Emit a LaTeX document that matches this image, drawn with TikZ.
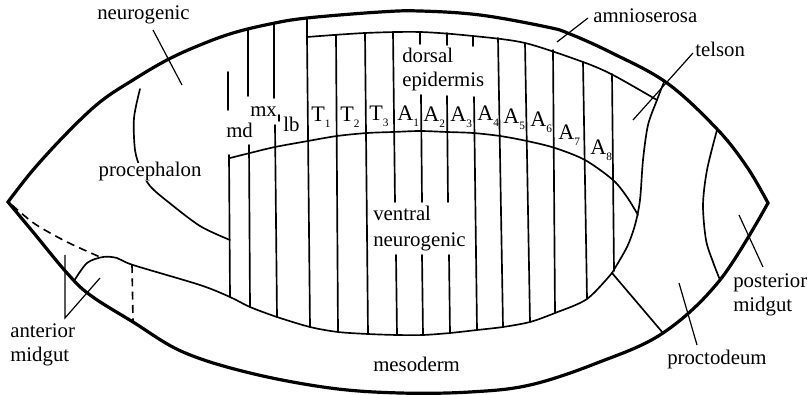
\documentclass[tikz,border=0pt]{standalone}
\usepackage{fontspec}
\setmainfont{Liberation Serif}
\newcommand\sbs[1]{\raisebox{-4.5pt}{\fontsize{8.5}{8.5}\selectfont #1}}
\begin{document}
\begin{tikzpicture}[x=0.75pt,y=-0.75pt,
  shell/.style={line width=2.4pt,line join=miter},
  zone/.style={line width=1.25pt,line cap=round},
  leader/.style={line width=0.9pt},
  dashline/.style={line width=1.2pt,dash pattern=on 6pt off 4pt},
  lbl/.style={inner sep=0pt,anchor=base west,font=\fontsize{15.6}{18}\selectfont},
  seglbl/.style={lbl,font=\fontsize{16.6}{18}\selectfont}]
\useasboundingbox (0,0) rectangle (811,395);

% egg outline
\draw[shell] plot[smooth,tension=0.6] coordinates {(8,202) (33,170) (67,133) (100,102) (133,80) (167,60) (200,45) (233,33) (270,24) (307,18) (380,12) (420,11) (480,15) (547,27) (570,34) (612,53) (667,83) (717,129) (747,167) (768,203)}
  -- plot[smooth,tension=0.6] coordinates {(768,203) (720,280) (663,333) (597,363) (530,385) (470,392) (400,393) (330,388) (250,373) (183,352) (133,322) (90,295) (67,273) (33,232) (8,202)} -- cycle;

% amnioserosa boundary
\draw[zone] (307,18) -- (307,37);
\draw[zone] plot[smooth] coordinates {(307,37) (365,33) (420,32) (473,36) (525,43) (583,62) (613,75) (657,100)};

% telson boundary
\draw[zone] plot[smooth] coordinates {(664,82) (657,100) (648,125) (643,160) (640,200) (635,225) (627,247) (612,273)};

% ventral edge of the germ band and the anterior midgut bulge
\draw[zone] plot[smooth] coordinates {(612,273) (587,299) (555,313) (530,322) (503,327) (477,330) (450,333) (423,335) (397,335) (368,334) (338,332) (310,327) (277,317) (250,307) (230,297) (200,285) (133,265) (117,258) (103,257) (87,263) (74,281)};

% dorsal / ventral division of the trunk
\draw[zone] plot[smooth] coordinates {(230,158) (250,153) (275,147) (308,141) (337,136) (367,133) (393,132) (420,131) (447,132) (473,133) (500,136) (527,141) (555,148) (585,160) (613,180) (627,197) (638,215)};

% procephalon boundary
\draw[zone] plot[smooth] coordinates {(140,89) (134,118) (135,150) (141,170) (150,186) (167,201) (200,226) (230,240)};

% posterior midgut boundary
\draw[zone] plot[smooth] coordinates {(717,130) (707,170) (703,205) (706,240) (713,262) (720,280)};

% proctodeum boundary
\draw[zone] (612,273) -- (663,333);

% segment borders
\draw[zone] (228,72) -- (228,110) (229,155) -- (230,297);
\draw[zone] (248,30) -- (248,96) (249,145) -- (250,307);
\draw[zone] (274,24) -- (274,98) (279,115) -- (279,121) (275,125) -- (277,317);
\draw[zone] (307,37) -- (310,327);
\draw[zone] (336,35) -- (338,332);
\draw[zone] (365,33) -- (368,334);
\draw[zone] (393,32) -- (395,202) (396,255) -- (397,335);
\draw[zone] (420,32) -- (420,44) (421,95) -- (422,202) (422,255) -- (423,335);
\draw[zone] (447,33) -- (447,45) (447,96) -- (448,202) (449,255) -- (450,333);
\draw[zone] (473,36) -- (473,46) (474,97) -- (477,330);
\draw[zone] (498,38) -- (503,327);
\draw[zone] (525,43) -- (530,322);
\draw[zone] (553,50) -- (555,313);
\draw[zone] (583,62) -- (587,298);
\draw[zone] (612,74) -- (614,271);

% anterior midgut (dashed)
\draw[dashline] plot[smooth] coordinates {(12,205) (35,224) (67,242) (100,257)};
\draw[dashline] (132,265) -- (133,321);

% labels
\node[lbl] (neu) at (97,20) {neurogenic};
\node[lbl,fill=white,inner xsep=1pt] (pro) at (97,177) {procephalon};
\node[lbl] (amn) at (593,23) {amnioserosa};
\node[lbl] (tel) at (695,57) {telson};
\node[lbl] (dor1) at (402,63) {dorsal};
\node[lbl] (dor2) at (402,87) {epidermis};
\node[lbl] (ven1) at (373,221) {ventral};
\node[lbl] (ven2) at (373,247) {neurogenic};
\node[lbl] (mes) at (373,372) {mesoderm};
\node[lbl] (ant1) at (10,338) {anterior};
\node[lbl] (ant2) at (10,362) {midgut};
\node[lbl] (pos1) at (733,288) {posterior};
\node[lbl] (pos2) at (733,312) {midgut};
\node[lbl] (prc) at (667,365) {proctodeum};

\node[lbl] (md) at (226,138) {md};
\node[lbl] (mx) at (250,117) {mx};
\node[lbl] (lb) at (283,132) {lb};
\node[seglbl] (t1) at (311,122) {T\sbs{1}};
\node[seglbl] (t2) at (340,122) {T\sbs{2}};
\node[seglbl] (t3) at (369,121) {T\sbs{3}};
\node[seglbl] (a1) at (397,121) {A\sbs{1}};
\node[seglbl] (a2) at (423,122) {A\sbs{2}};
\node[seglbl] (a3) at (450,122) {A\sbs{3}};
\node[seglbl] (a4) at (477,121) {A\sbs{4}};
\node[seglbl] (a5) at (503,124) {A\sbs{5}};
\node[seglbl] (a6) at (530,127) {A\sbs{6}};
\node[seglbl] (a7) at (558,140) {A\sbs{7}};
\node[seglbl] (a8) at (590,155) {A\sbs{8}};

% leader lines
\coordinate (neuT) at (182,85);
\coordinate (amnT) at (557,42);
\coordinate (telT) at (633,120);
\coordinate (posT) at (739,215);
\coordinate (prcT) at (679,283);
\coordinate (antV) at (65,318);
\coordinate (antA) at (65,255);
\coordinate (antB) at (100,278);
\draw[leader] (153,30) -- (neuT);
\draw[leader] (588,18) -- (amnT);
\draw[leader] (693,53) -- (telT);
\draw[leader] (763,267) -- (posT);
\draw[leader] (697,345) -- (prcT);
\draw[leader] (antA) -- (antV) -- (antB);
\end{tikzpicture}
\end{document}
